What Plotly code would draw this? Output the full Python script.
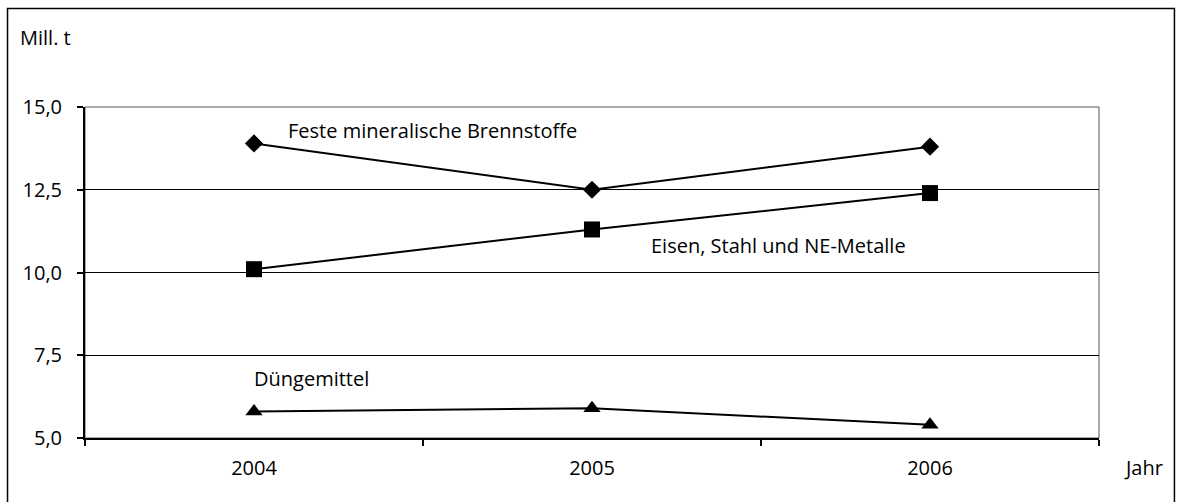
import plotly.graph_objects as go

years = ["2004", "2005", "2006"]
feste = [13.9, 12.5, 13.8]
eisen = [10.1, 11.3, 12.4]
duenge = [5.8, 5.9, 5.4]
y_ticks = [5.0, 7.5, 10.0, 12.5, 15.0]
y_ticktext = ["5,0", "7,5", "10,0", "12,5", "15,0"]
series_names = ["Feste mineralische Brennstoffe", "Eisen, Stahl und NE-Metalle", "Düngemittel"]

FONT = "Open Sans"
FS = 20
fig = go.Figure()
for vals, sym, size, name in [(feste, "diamond", 14, series_names[0]),
                              (eisen, "square", 16, series_names[1]),
                              (duenge, "triangle-up", 15, series_names[2])]:
    fig.add_trace(go.Scatter(x=years, y=vals, mode="lines+markers", name=name,
                             line=dict(color="black", width=2),
                             marker=dict(symbol=sym, size=size, color="black"),
                             showlegend=False, cliponaxis=False))

# series labels
fig.add_annotation(x=0, y=feste[0], xref="x", yref="y", text=series_names[0],
                   showarrow=False, xanchor="left", xshift=32, yshift=13,
                   font=dict(size=FS, family=FONT, color="black"))
fig.add_annotation(x=1, y=eisen[1], xref="x", yref="y", text=series_names[1],
                   showarrow=False, xanchor="left", xshift=57, yshift=-16,
                   font=dict(size=FS, family=FONT, color="black"))
fig.add_annotation(x=0, y=duenge[0], xref="x", yref="y", text=series_names[2],
                   showarrow=False, xanchor="left", xshift=-2, yshift=33,
                   font=dict(size=FS, family=FONT, color="black"))

# axis titles
fig.add_annotation(x=-0.066, y=1.211, xref="paper", yref="paper", text="Mill. t",
                   showarrow=False, xanchor="left", yanchor="middle",
                   font=dict(size=FS, family=FONT, color="black"))
fig.add_annotation(x=1.023, y=-0.0906, xref="paper", yref="paper", text="Jahr",
                   showarrow=False, xanchor="left", yanchor="middle",
                   font=dict(size=FS, family=FONT, color="black"))

# plot area right edge and outer frame
fig.add_shape(type="rect", xref="paper", yref="paper", x0=0, x1=1, y0=0, y1=1,
              line=dict(color="#555", width=1), layer="below")
fig.add_shape(type="rect", xref="paper", yref="paper", x0=-0.0764, x1=1.0744,
              y0=-0.25, y1=1.2975, line=dict(color="black", width=1.5))

fig.update_xaxes(type="category", range=[-0.5, 2.5], tickson="boundaries",
                 ticks="outside", ticklen=6, tickwidth=2, tickcolor="black",
                 showline=True, linecolor="black", linewidth=2, showgrid=False,
                 ticklabelstandoff=11, automargin=False,
                 tickfont=dict(size=FS, family=FONT, color="black"))
fig.update_yaxes(range=[5, 15], tickvals=y_ticks, ticktext=y_ticktext,
                 ticks="outside", ticklen=6, tickwidth=2, tickcolor="black",
                 showline=True, linecolor="black", linewidth=2,
                 showgrid=True, gridcolor="black", gridwidth=1, zeroline=False,
                 ticklabelstandoff=11, automargin=False,
                 tickfont=dict(size=FS, family=FONT, color="black"))
fig.update_layout(width=1177, height=502, plot_bgcolor="white", paper_bgcolor="white",
                  margin=dict(l=85, r=78, t=107, b=64), font=dict(family=FONT))
fig.write_html("out.html", config={"displayModeBar": False},
               post_script="document.body.style.margin='0';document.body.style.overflow='hidden';")
